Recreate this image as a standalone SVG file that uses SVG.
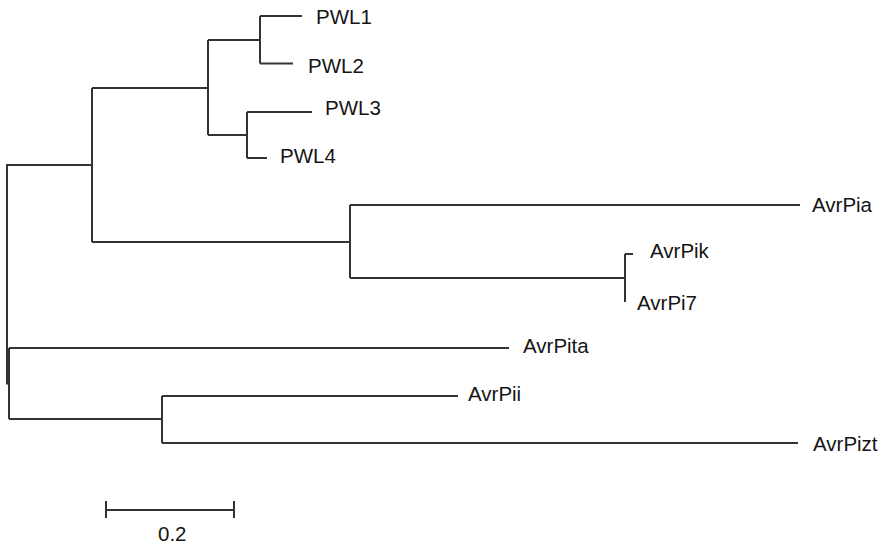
<svg xmlns="http://www.w3.org/2000/svg" width="882" height="547" viewBox="0 0 882 547">
<style>
.br{fill:none;stroke:#333;stroke-width:2;stroke-linecap:butt;stroke-linejoin:miter}
.lb{font-family:"Liberation Sans",Arial,Helvetica,sans-serif;font-size:20.5px;fill:#151515}
</style>
<rect width="882" height="547" fill="#fff"/>
<g id="connectors">
<path class="br" d="M7,164 V383.5 H9"/>
<path class="br" d="M7,165 H92"/>
<path class="br" d="M92,88 V242"/>
<path class="br" d="M92,88 H208"/>
<path class="br" d="M208,40 V135"/>
<path class="br" d="M208,40 H260 M260,16 V63.5 M260,16 H302 M260,63.5 H293"/>
<path class="br" d="M208,135 H247 M247,112 V158 M247,112 H312 M247,158 H267"/>
<path class="br" d="M92,242 H350 M350,205 V278 M350,205 H800 M350,278 H625"/>
<path class="br" d="M625,254 V302 M625,254 H633"/>
<path class="br" d="M9,348 V419 M9,348 H509 M9,419 H162"/>
<path class="br" d="M162,396 V443 M162,396 H458 M162,443 H798"/>
</g>
<g id="PWL1"><text class="lb" x="316" y="24">PWL1</text></g>
<g id="PWL2"><text class="lb" x="308" y="73">PWL2</text></g>
<g id="PWL3"><text class="lb" x="325" y="115">PWL3</text></g>
<g id="PWL4"><text class="lb" x="280" y="163">PWL4</text></g>
<g id="AvrPia"><text class="lb" x="812" y="212">AvrPia</text></g>
<g id="AvrPik"><text class="lb" x="650" y="258">AvrPik</text></g>
<g id="AvrPi7"><text class="lb" x="637" y="310">AvrPi7</text></g>
<g id="AvrPita"><text class="lb" x="523" y="353">AvrPita</text></g>
<g id="AvrPii"><text class="lb" x="468" y="401">AvrPii</text></g>
<g id="AvrPizt"><text class="lb" x="813" y="451">AvrPizt</text></g>
<g id="scale">
<path class="br" d="M106,510 H234 M106,501 V518 M234,501 V518"/>
<text class="lb" x="158" y="541">0.2</text>
</g>
</svg>
